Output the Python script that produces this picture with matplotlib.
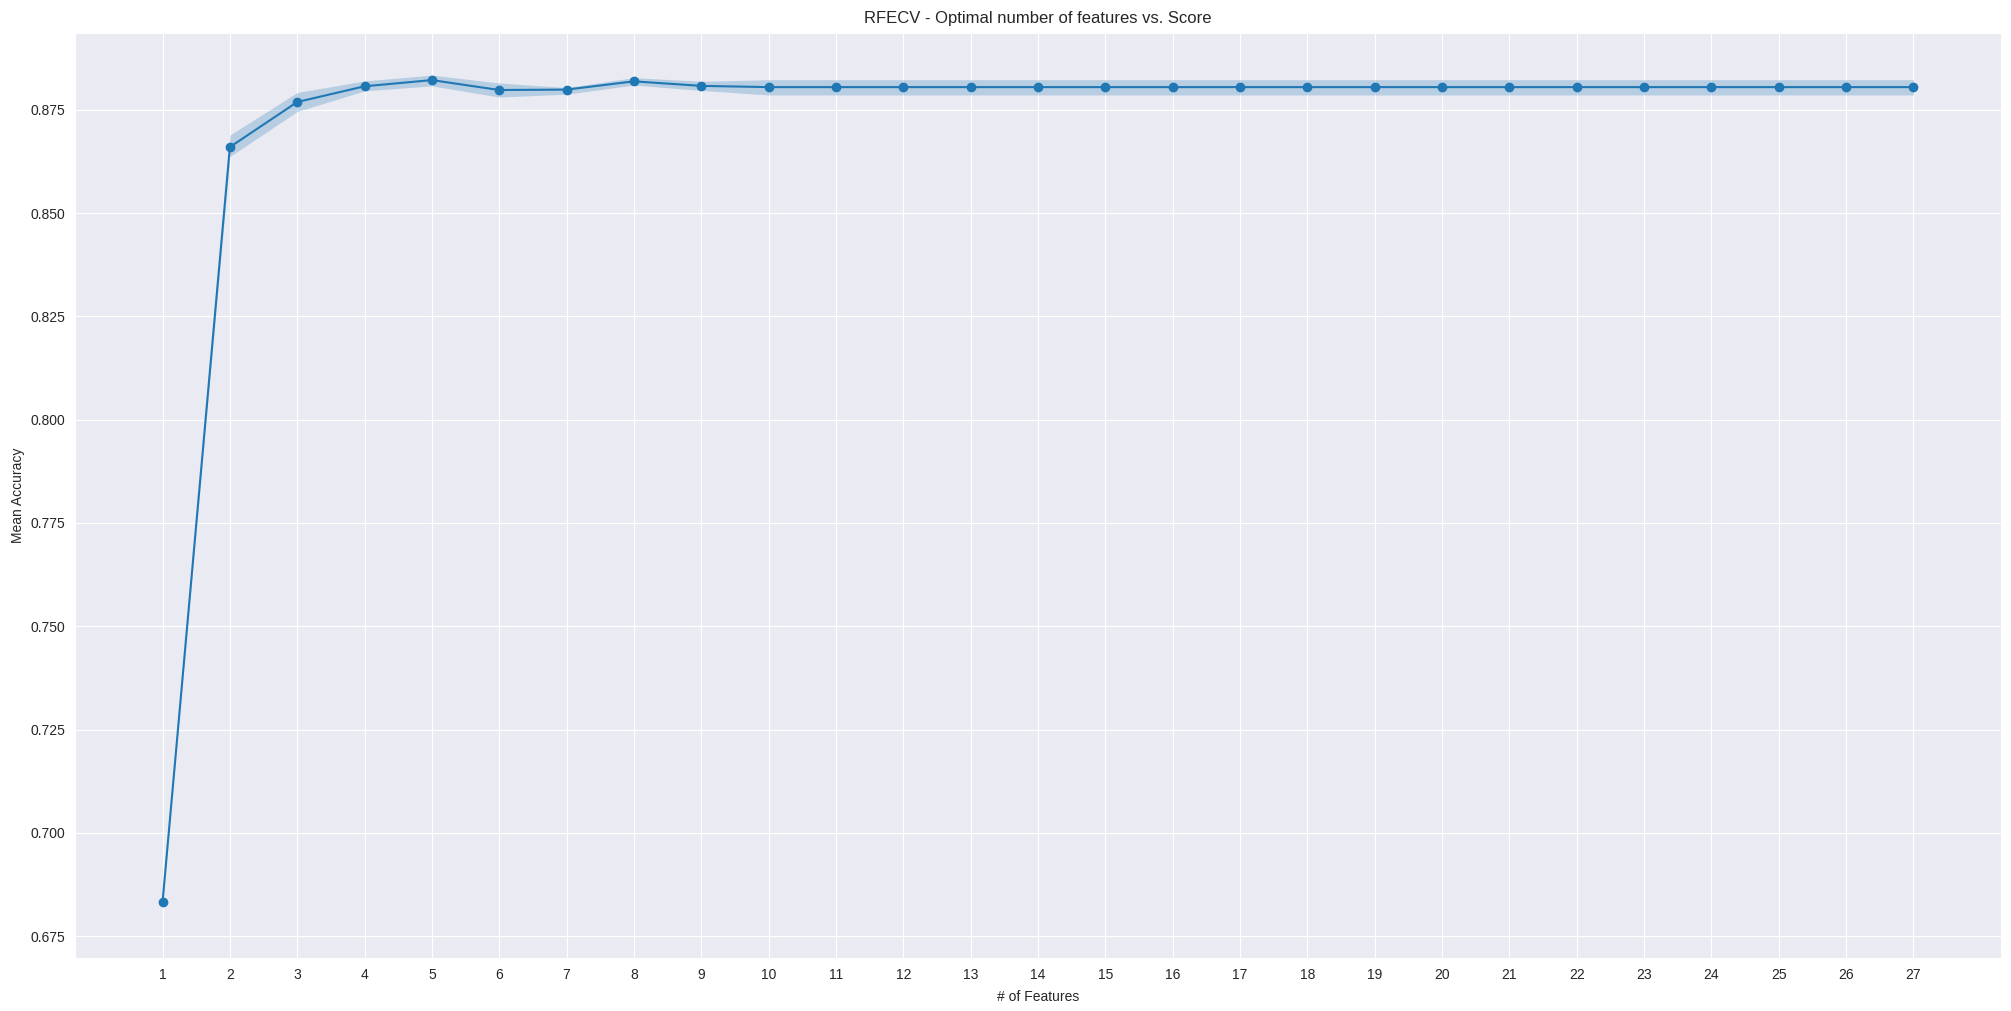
import matplotlib
matplotlib.use("Agg")
import matplotlib.pyplot as plt
import seaborn as sns
import numpy as np

n_features = list(range(1, 28))
mean_acc = [0.6832, 0.8660, 0.8769, 0.8807, 0.8822, 0.8798, 0.8799, 0.8819, 0.8808] + [0.8805] * 18
upper = [0.6834, 0.8689, 0.8792, 0.8820, 0.8834, 0.8815, 0.8804, 0.8828, 0.8819] + [0.8823] * 18
lower = [0.6830, 0.8637, 0.8746, 0.8796, 0.8808, 0.8781, 0.8788, 0.8810, 0.8797] + [0.8786] * 18

sns.set_style("darkgrid")
plt.rcParams['font.family'] = ['Liberation Sans', 'DejaVu Sans']

fig, ax = plt.subplots(figsize=(20.11, 10.11), dpi=100)
fig.subplots_adjust(left=75/2011, right=2001/2011, top=1-33/1011, bottom=1-958/1011)

ax.plot(n_features, mean_acc, marker='o', color='#1f77b4', linewidth=1.5, markersize=6)
ax.fill_between(n_features, lower, upper, color='#1f77b4', alpha=0.25, linewidth=0)

ax.set_xticks(n_features)
ax.set_xlim(-0.3, 28.3)
ax.set_ylim(0.6697, 0.8936)
ax.set_yticks([0.675, 0.700, 0.725, 0.750, 0.775, 0.800, 0.825, 0.850, 0.875])
ax.set_xlabel("# of Features", labelpad=6)
ax.set_ylabel("Mean Accuracy")
ax.set_title("RFECV - Optimal number of features vs. Score", fontsize=12, pad=7)

fig.savefig("out.png", dpi=100)
